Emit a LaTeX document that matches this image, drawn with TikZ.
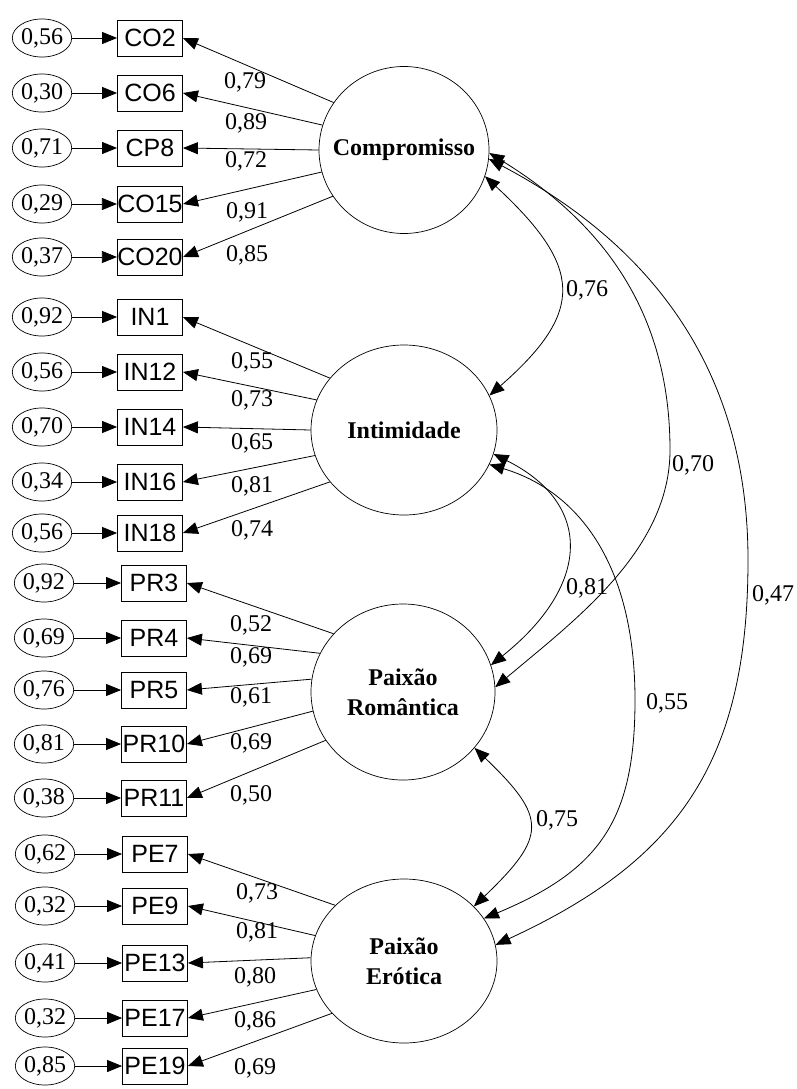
\documentclass[tikz,border=0pt]{standalone}
\usepackage{fontspec}
\setmainfont{Liberation Serif}
\newfontfamily\arialfont{Liberation Sans}
\usetikzlibrary{arrows.meta, shapes.geometric}

\tikzset{
    errnode/.style={ellipse, draw, line width=0.7pt, minimum width=59pt, minimum height=38pt, inner sep=0pt, font=\fontsize{24}{26}\selectfont},
    obsbox/.style={rectangle, draw, line width=0.8pt, minimum width=65pt, minimum height=36pt, inner sep=0pt, font=\arialfont\fontsize{25}{27}\selectfont},
    latent/.style={ellipse, draw, line width=0.7pt, inner sep=0pt, align=center, font=\bfseries\fontsize{24}{30}\selectfont},
    loadlab/.style={inner sep=0pt, font=\fontsize{24}{26}\selectfont},
    link/.style={line width=0.8pt, ->},
    corr/.style={line width=0.8pt, <->}
}

\begin{document}
\begin{tikzpicture}[x=1pt, y=-1pt, >={Triangle[length=15pt, width=12pt]}]
        \useasboundingbox (0,0) rectangle (796,1089);

        % Draw the latent factors
        \node[latent, minimum width=170pt, minimum height=167pt, inner xsep=-12pt] (comp) at (404,150) {Compromisso};
        \node[latent, minimum width=186pt, minimum height=170pt] (intim) at (404,430) {Intimidade};
        \node[latent, minimum width=184pt, minimum height=176pt] (prom) at (403,692) {Paixão\\Romântica};
        \node[latent, minimum width=186pt, minimum height=164pt] (perot) at (404,961) {Paixão\\Erótica};

        % Indicators of Compromisso
        \foreach \n/\txt/\y/\err/\lam/\ang/\lx/\ly in {
            co2/CO2/38/{0,56}/{0,79}/146/245/82,
            co6/CO6/93/{0,30}/{0,89}/163/246/123,
            cp8/CP8/148/{0,71}/{0,72}/180/246/161,
            co15/CO15/204/{0,29}/{0,91}/195/247/212,
            co20/CO20/257/{0,37}/{0,85}/213/247/255} {
            \node[errnode] (e\n) at (42,\y) {\err};
            \node[obsbox] (\n) at (150,\y) {\txt};
            \draw[link] (e\n) -- (\n);
            \draw[link] (comp.\ang) -- (\n.east);
            \node[loadlab] (l\n) at (\lx,\ly) {\lam};
        }

        % Indicators of Intimidade
        \foreach \n/\txt/\y/\err/\lam/\ang/\lx/\ly in {
            in1/IN1/317/{0,92}/{0,55}/145/252/362,
            in12/IN12/372/{0,56}/{0,73}/161/252/400,
            in14/IN14/427/{0,70}/{0,65}/180/252/443,
            in16/IN16/482/{0,34}/{0,81}/196/252/486,
            in18/IN18/533/{0,56}/{0,74}/215/252/530} {
            \node[errnode] (e\n) at (42,\y) {\err};
            \node[obsbox] (\n) at (150,\y) {\txt};
            \draw[link] (e\n) -- (\n);
            \draw[link] (intim.\ang) -- (\n.east);
            \node[loadlab] (l\n) at (\lx,\ly) {\lam};
        }

        % Indicators of Paixao Romantica
        \foreach \n/\txt/\y/\err/\lam/\ang/\lx/\ly in {
            pr3/PR3/583/{0,92}/{0,52}/140/251/625,
            pr4/PR4/638/{0,69}/{0,69}/155/251/657,
            pr5/PR5/690/{0,76}/{0,61}/172/251/697,
            pr10/PR10/744/{0,81}/{0,69}/192/251/743,
            pr11/PR11/798/{0,38}/{0,50}/212/251/795} {
            \node[errnode] (e\n) at (44,\y) {\err};
            \node[obsbox] (\n) at (154,\y) {\txt};
            \draw[link] (e\n) -- (\n);
            \draw[link] (prom.\ang) -- (\n.east);
            \node[loadlab] (l\n) at (\lx,\ly) {\lam};
        }

        % Indicators of Paixao Erotica
        \foreach \n/\txt/\y/\err/\lam/\ang/\lx/\ly in {
            pe7/PE7/854/{0,62}/{0,73}/141/257/893,
            pe9/PE9/906/{0,32}/{0,81}/164/257/932,
            pe13/PE13/963/{0,41}/{0,80}/178/255/977,
            pe17/PE17/1018/{0,32}/{0,86}/198/255/1021,
            pe19/PE19/1066/{0,85}/{0,69}/216/255/1068} {
            \node[errnode] (e\n) at (45,\y) {\err};
            \node[obsbox] (\n) at (155,\y) {\txt};
            \draw[link] (e\n) -- (\n);
            \draw[link] (perot.\ang) -- (\n.east);
            \node[loadlab] (l\n) at (\lx,\ly) {\lam};
        }

        % Correlations between the factors
        \coordinate (b70) at (670,450);
        \coordinate (c47) at (748,560);
        \coordinate (e55) at (635,700);
        \draw[corr] (comp.-18) .. controls +(97,90) and +(97,-85) .. (intim.22);
        \draw[corr] (comp.-2) .. controls (590,215) and (670,300) .. (b70) .. controls (670,550) and (575,620) .. (prom.3);
        \draw[corr] (comp.-6) .. controls (680,260) and (748,400) .. (c47) .. controls (748,760) and (680,860) .. (perot.10);
        \draw[corr] (intim.-15) .. controls +(100,50) and +(100,-80) .. (prom.17);
        \draw[corr] (intim.-22) .. controls (575,490) and (635,560) .. (e55) .. controls (635,820) and (600,870) .. (perot.28);
        \draw[corr] (prom.-38) .. controls +(73,70) and +(73,-70) .. (perot.38);

        % Label the correlations
        \node[loadlab] (r76) at (587,290) {0,76};
        \node[loadlab] (r70) at (693,465) {0,70};
        \node[loadlab] (r47) at (773,595) {0,47};
        \node[loadlab] (r81) at (587,588) {0,81};
        \node[loadlab] (r55) at (667,703) {0,55};
        \node[loadlab] (r75) at (557,820) {0,75};
    \end{tikzpicture}
\end{document}
